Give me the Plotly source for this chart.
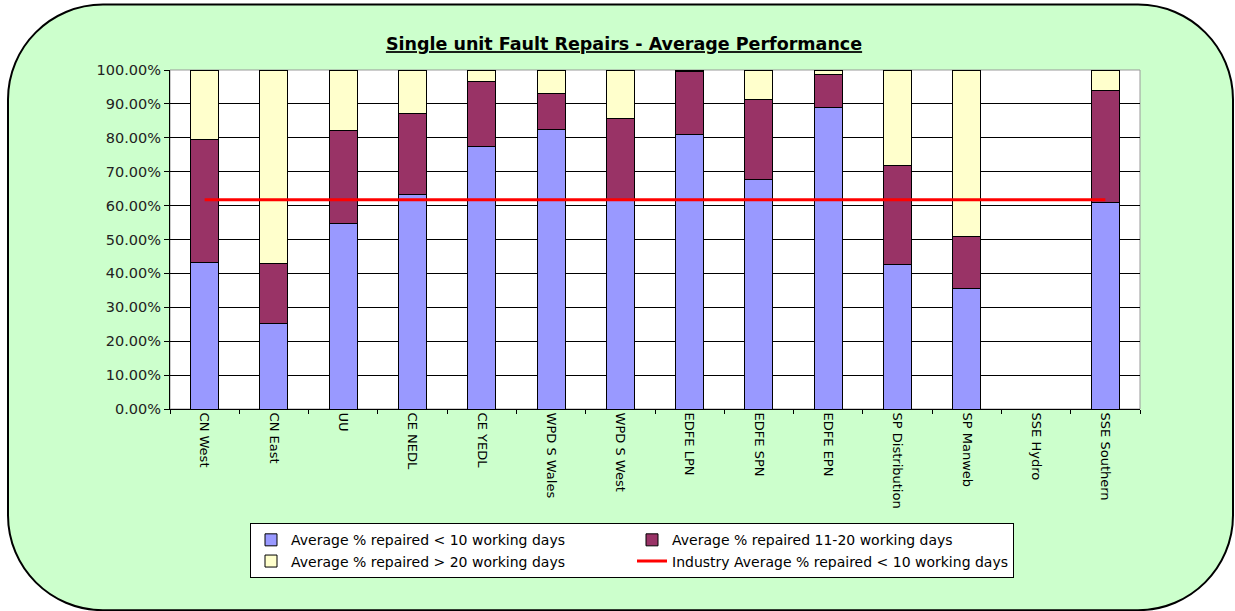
import plotly.graph_objects as go

categories = ["CN West", "CN East", "UU", "CE NEDL", "CE YEDL", "WPD S Wales", "WPD S West",
              "EDFE LPN", "EDFE SPN", "EDFE EPN", "SP Distribution", "SP Manweb", "SSE Hydro",
              "SSE Southern"]
under_10 = [43.2, 25.3, 54.8, 63.2, 77.5, 82.4, 61.8, 81.0, 67.6, 89.0, 42.7, 35.5, None, 60.8]
days_11_20 = [36.2, 17.7, 27.3, 23.9, 19.2, 10.8, 24.0, 18.6, 23.7, 9.8, 29.1, 15.5, None, 33.1]
over_20 = [20.6, 57.0, 17.9, 12.9, 3.3, 6.8, 14.2, 0.4, 8.7, 1.2, 28.2, 49.0, None, 6.1]
industry_avg = [61.7] * len(categories)

W, H = 1235, 611
L, R, T, B = 170, 1140, 69.5, 408.7

def px(x):
    return (x - L) / (R - L)

def py(y):
    return (B - y) / (B - T)

fig = go.Figure()
fig.add_bar(x=categories, y=under_10, name="Average % repaired < 10 working days",
            marker=dict(color="#9999FF", line=dict(color="black", width=1)))
fig.add_bar(x=categories, y=days_11_20, name="Average % repaired 11-20 working days",
            marker=dict(color="#993366", line=dict(color="black", width=1)))
fig.add_bar(x=categories, y=over_20, name="Average % repaired > 20 working days",
            marker=dict(color="#FFFFCC", line=dict(color="black", width=1)))
fig.add_scatter(x=categories, y=industry_avg, mode="lines",
                name="Industry Average % repaired < 10 working days",
                line=dict(color="#FF0000", width=3))

# rounded background panel
x0, x1, y0, y1, r = 8, 1233, 4, 610, 95
k = 0.5523 * r
def P(x, y):
    return f"{px(x):.5f},{py(y):.5f}"
path = (f"M {P(x0 + r, y0)} L {P(x1 - r, y0)} "
        f"C {P(x1 - r + k, y0)} {P(x1, y0 + r - k)} {P(x1, y0 + r)} "
        f"L {P(x1, y1 - r)} "
        f"C {P(x1, y1 - r + k)} {P(x1 - r + k, y1)} {P(x1 - r, y1)} "
        f"L {P(x0 + r, y1)} "
        f"C {P(x0 + r - k, y1)} {P(x0, y1 - r + k)} {P(x0, y1 - r)} "
        f"L {P(x0, y0 + r)} "
        f"C {P(x0, y0 + r - k)} {P(x0 + r - k, y0)} {P(x0 + r, y0)} Z")

shapes = [
    dict(type="path", path=path, xref="paper", yref="paper", layer="below",
         fillcolor="#CCFFCC", line=dict(color="black", width=2)),
    dict(type="rect", xref="paper", yref="paper", x0=0, x1=1, y0=0, y1=1, layer="below",
         fillcolor="white", line=dict(color="#999999", width=1)),
]

fig.update_layout(
    width=W, height=H,
    margin=dict(l=L, r=W - R, t=T, b=H - B, pad=0),
    paper_bgcolor="white", plot_bgcolor="white",
    barmode="stack", bargap=0.596,
    font=dict(family="DejaVu Sans", color="black", size=12),
    title=dict(text="<b><u>Single unit Fault Repairs - Average Performance</u></b>",
               x=624 / W, xanchor="center", y=1 - 44 / H, yanchor="middle",
               font=dict(size=17.5, family="DejaVu Sans", color="black")),
    shapes=shapes,
    showlegend=True,
    legend=dict(orientation="h", x=px(250), y=py(523), xanchor="left", yanchor="top",
                bgcolor="white", bordercolor="black", borderwidth=1,
                entrywidth=336, entrywidthmode="pixels", traceorder="normal",
                font=dict(size=14, family="DejaVu Sans", color="black"),
                itemwidth=30, tracegroupgap=0),
    xaxis=dict(showline=True, linecolor="black", linewidth=1, ticks="outside",
               tickson="boundaries", ticklen=4, tickcolor="black", tickangle=90,
               showgrid=False, tickfont=dict(size=13, family="DejaVu Sans", color="black"),
               range=[-0.5, len(categories) - 0.5]),
    yaxis=dict(range=[0, 100], dtick=10, tickformat=".2f", ticksuffix="%",
               showline=True, linecolor="black", linewidth=1, ticks="outside",
               ticklen=5, tickcolor="black", showgrid=True, gridcolor="black",
               gridwidth=1, zeroline=False,
               tickfont=dict(size=14.5, family="DejaVu Sans", color="#222222")),
)

fig.write_html("out.html")
